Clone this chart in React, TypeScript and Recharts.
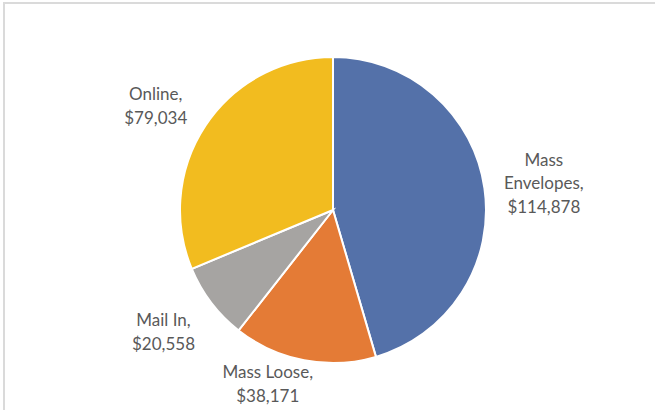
import React from "react";
import { PieChart, Pie, Cell } from "recharts";

const categories = ["Mass Envelopes", "Mass Loose", "Mail In", "Online"];
const amounts = [114878, 38171, 20558, 79034];
const labelLines = [
  ["Mass", "Envelopes,"],
  ["Mass Loose,"],
  ["Mail In,"],
  ["Online,"],
];

const colors = ["#5471a9", "#e47b36", "#a6a4a2", "#f2bc1f"];
// Excel's best-fit nudges for labels it moved off the plain spot
const labelNudge: Record<string, [number, number]> = {
  "Mass Loose": [-25, -22],
  Online: [0, 2],
};

const data = categories.map((name, i) => ({
  name,
  value: amounts[i],
  lines: [...labelLines[i], "$" + amounts[i].toLocaleString("en-US")],
}));

const RAD = Math.PI / 180;
const FONT = 17;
const LINE_H = 23.5;
const BOX_W = 80;

function renderLabel(props: any) {
  const { cx, cy, midAngle, outerRadius, payload, name } = props;
  const lines: string[] = payload.lines;
  const cos = Math.cos(midAngle * RAD);
  const sin = Math.sin(midAngle * RAD);
  const r = outerRadius + 20;
  const px = cx + r * cos;
  const py = cy - r * sin;
  const h = lines.length * LINE_H;
  const nudge = labelNudge[name] || [0, 0];
  const x = px + (cos * BOX_W) / 2 + nudge[0];
  const y = py - (sin * h) / 2 + nudge[1] + 2;
  const top = y - h / 2 + LINE_H / 2;
  return (
    <text
      x={x}
      y={top}
      textAnchor="middle"
      dominantBaseline="central"
      fill="#595959"
      fontSize={FONT}
      fontFamily="Lato, sans-serif"
    >
      {lines.map((l, i) => (
        <tspan key={i} x={x} dy={i === 0 ? 0 : LINE_H}>
          {l}
        </tspan>
      ))}
    </text>
  );
}

export default function App() {
  return (
    <div style={{ position: "fixed", top: 0, left: 0, width: 655, height: 410, background: "#fff" }}>
      <div
        style={{
          position: "absolute",
          top: 2,
          left: 3,
          right: 0,
          bottom: 0,
          borderTop: "2px solid #dadada",
          borderLeft: "2px solid #dadada",
        }}
      />
      <div style={{ position: "absolute", top: 0, left: 0 }}>
        <PieChart width={655} height={410} margin={{ top: 0, right: 0, bottom: 0, left: 0 }}>
          <Pie
            data={data}
            dataKey="value"
            nameKey="name"
            cx={333}
            cy={210}
            outerRadius={153}
            startAngle={90}
            endAngle={-270}
            stroke="#ffffff"
            strokeWidth={2}
            label={renderLabel}
            labelLine={false}
            isAnimationActive={false}
          >
            {data.map((d, i) => (
              <Cell key={d.name} fill={colors[i]} />
            ))}
          </Pie>
        </PieChart>
      </div>
    </div>
  );
}
